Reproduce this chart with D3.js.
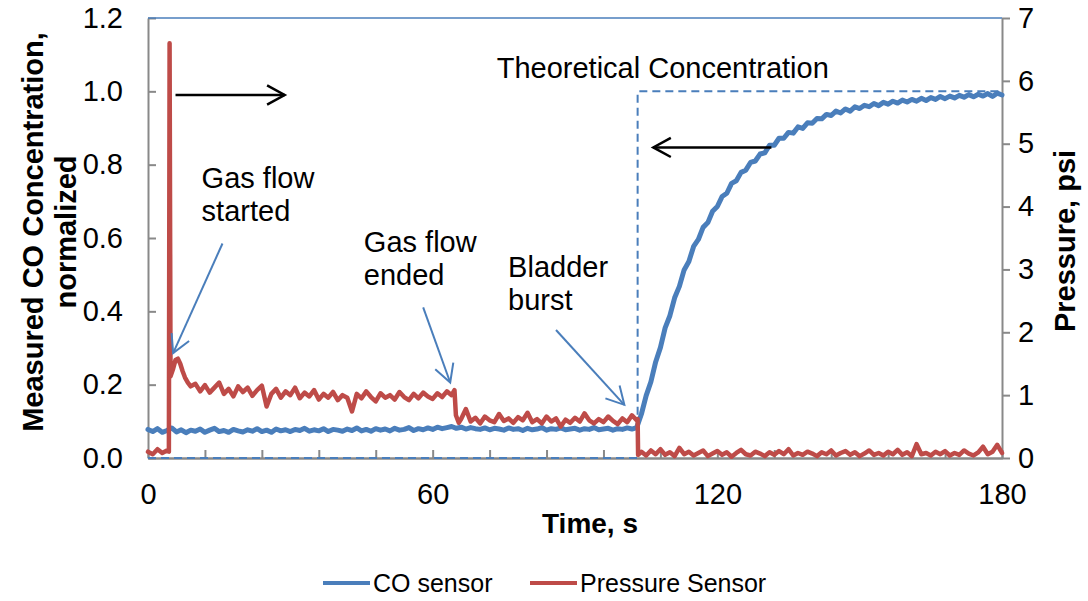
<!DOCTYPE html>
<html>
<head>
<meta charset="utf-8">
<script src="https://cdn.jsdelivr.net/npm/d3@7"></script>
<style>
  body { margin: 0; background: #fff; }
  text { font-family: "Liberation Sans", Arial, sans-serif; }
</style>
</head>
<body>
<script>
// CO sensor, normalized, one sample per second from t = 0 to 180 s
var coValues = [
  0.078,0.072,0.080,0.070,0.075,0.082,0.071,0.077,0.069,0.076,
  0.073,0.079,0.070,0.076,0.081,0.072,0.075,0.070,0.078,0.074,
  0.071,0.077,0.073,0.080,0.072,0.076,0.070,0.079,0.074,0.077,
  0.072,0.078,0.075,0.081,0.073,0.077,0.074,0.080,0.072,0.078,
  0.076,0.073,0.079,0.075,0.082,0.074,0.078,0.073,0.080,0.076,
  0.079,0.074,0.081,0.076,0.078,0.083,0.075,0.080,0.077,0.082,
  0.078,0.084,0.080,0.083,0.086,0.081,0.084,0.079,0.083,0.080,
  0.078,0.082,0.077,0.081,0.079,0.076,0.082,0.078,0.080,0.075,
  0.081,0.077,0.079,0.083,0.076,0.080,0.078,0.082,0.077,0.079,
  0.081,0.076,0.080,0.078,0.083,0.077,0.079,0.081,0.076,0.080,
  0.078,0.082,0.079,0.083,
  0.120,0.170,0.208,0.262,0.301,0.355,
  0.388,0.437,0.468,0.513,0.536,0.577,0.596,0.629,0.642,0.673,
  0.686,0.713,0.722,0.749,0.756,0.779,0.785,0.806,0.810,0.829,
  0.832,0.853,0.853,0.872,0.872,0.888,0.886,0.903,0.899,0.914,
  0.913,0.926,0.925,0.937,0.934,0.946,0.941,0.952,0.946,0.958,
  0.953,0.962,0.958,0.967,0.961,0.970,0.965,0.973,0.968,0.976,
  0.971,0.978,0.973,0.981,0.975,0.983,0.978,0.986,0.980,0.987,
  0.982,0.989,0.984,0.991,0.985,0.992,0.987,0.994,0.986,0.995,
  0.990
];

// pressure sensor [time s, psi]
var pressure = [
  [0,0.10],[1,0.06],[2,0.14],[3,0.08],[4,0.12],[4.4,0.10],[4.55,6.6],[4.75,1.3],
  [5.3,1.42],[5.8,1.56],[6.3,1.58],[6.8,1.5],[7.3,1.38],[7.8,1.28],[8.4,1.2],[9,1.14],
  [10,1.18],[11,1.06],[12,1.16],[13,1.04],[14,1.12],[15,1.20],[16,1.02],[17,1.10],
  [18,0.98],[19,1.14],[20,1.05],[21,1.12],[22,0.99],[23,1.08],[24,1.15],[25,0.82],
  [26,1.02],[27,1.10],[28,0.96],[29,1.06],[30,1.00],[31,1.12],[32,0.95],[33,1.04],
  [34,0.98],[35,1.08],[36,0.93],[37,1.02],[38,0.96],[39,1.05],[40,0.92],[41,1.00],
  [42,0.96],[43,0.74],[44,1.02],[45,0.95],[46,1.06],[47,0.97],[48,0.90],[49,1.03],
  [50,0.96],[51,1.00],[52,0.93],[53,1.05],[54,0.97],[55,0.92],[56,1.02],[57,0.95],
  [58,1.04],[59,0.98],[60,0.94],[61,1.03],[62,0.97],[63,1.06],[64,1.00],[64.6,1.08],
  [64.9,0.68],[65.5,0.56],[66,0.62],[67,0.78],[68,0.58],[69,0.64],[70,0.55],[71,0.66],
  [72,0.60],[73,0.57],[74,0.70],[75,0.59],[76,0.63],[77,0.56],[78,0.65],[79,0.60],
  [80,0.72],[81,0.57],[82,0.62],[83,0.55],[84,0.66],[85,0.58],[86,0.63],[87,0.50],
  [88,0.61],[89,0.56],[90,0.64],[91,0.58],[92,0.71],[93,0.60],[94,0.55],[95,0.62],
  [96,0.57],[97,0.66],[98,0.59],[99,0.54],[100,0.63],[101,0.57],[102,0.68],[103,0.60],
  [103.2,0.62],[103.3,0.05],[104,0.10],[105,0.04],[106,0.12],[107,0.06],[108,0.14],
  [109,0.05],[110,0.09],[111,0.03],[112,0.16],[113,0.06],[114,0.10],[115,0.04],
  [116,0.08],[117,0.12],[118,0.03],[119,0.07],[120,0.11],[121,0.05],[122,0.09],
  [123,0.02],[124,0.08],[125,0.13],[126,0.06],[127,0.04],[128,0.10],[129,0.07],
  [130,0.03],[131,0.09],[132,0.05],[133,0.11],[134,0.06],[135,0.14],[136,0.04],
  [137,0.08],[138,0.05],[139,0.10],[140,0.07],[141,0.03],[142,0.09],[143,0.06],
  [144,0.12],[145,0.04],[146,0.08],[147,0.11],[148,0.05],[149,0.09],[150,0.03],
  [151,0.07],[152,0.12],[153,0.05],[154,0.08],[155,0.04],[156,0.10],[157,0.06],
  [158,0.13],[159,0.05],[160,0.09],[161,0.03],[162,0.22],[163,0.06],[164,0.08],
  [165,0.04],[166,0.10],[167,0.06],[168,0.11],[169,0.04],[170,0.08],[171,0.05],
  [172,0.12],[173,0.07],[174,0.04],[175,0.09],[176,0.18],[177,0.06],[178,0.10],
  [179,0.21],[180,0.08]
];

// theoretical concentration step
var theoryTime = [0, 103.2, 103.2, 180];
var theoryValue = [0, 0, 1, 1];

var leftTicks = [0, 0.2, 0.4, 0.6, 0.8, 1.0, 1.2];
var rightTicks = [0, 1, 2, 3, 4, 5, 6, 7];
var timeTicks = [0, 60, 120, 180];
var timeMinor = [0, 12, 24, 36, 48, 60, 72, 84, 96, 108, 120, 132, 144, 156, 168, 180];

var W = 1088, H = 601;
var plotL = 148, plotR = 1002, plotT = 18, plotB = 458;
var blue = "#4a7ebb", red = "#be4b48", grey = "#898989";

var svg = d3.select("body").append("svg")
  .attr("width", W).attr("height", H);

var x = d3.scaleLinear().domain([0, 180]).range([plotL, plotR]);
var yL = d3.scaleLinear().domain([0, 1.2]).range([plotB, plotT]);
var yR = d3.scaleLinear().domain([0, 7]).range([plotB, plotT]);

// axes
var axL = svg.append("g").attr("transform", "translate(" + plotL + ",0)")
  .call(d3.axisLeft(yL).tickValues(leftTicks).tickFormat(d3.format(".1f")).tickSizeInner(-8).tickSizeOuter(0).tickPadding(25));
var axR = svg.append("g").attr("transform", "translate(" + plotR + ",0)")
  .call(d3.axisRight(yR).tickValues(rightTicks).tickFormat(d3.format("d")).tickSizeInner(8).tickSizeOuter(0).tickPadding(8));
var axB = svg.append("g").attr("transform", "translate(0," + plotB + ")")
  .call(d3.axisBottom(x).tickValues(timeTicks).tickSize(0).tickPadding(25));
svg.append("g").attr("transform", "translate(0," + plotB + ")")
  .call(d3.axisBottom(x).tickValues(timeMinor).tickSizeInner(-8).tickSizeOuter(0).tickFormat(""))
  .selectAll("text").remove();

svg.selectAll(".domain").attr("stroke", grey).attr("stroke-width", 2);
svg.selectAll(".tick line").attr("stroke", grey).attr("stroke-width", 2);
svg.selectAll(".tick text").attr("font-size", 29).attr("fill", "#000")
  .attr("font-family", "Liberation Sans, Arial, sans-serif");
axB.selectAll(".tick text").attr("dy", "0.71em");

// top border
svg.append("line").attr("x1", plotL).attr("x2", plotR).attr("y1", plotT).attr("y2", plotT)
  .attr("stroke", blue).attr("stroke-width", 1.5);

// theoretical concentration (dashed)
svg.append("path")
  .datum(d3.range(theoryTime.length))
  .attr("fill", "none").attr("stroke", blue).attr("stroke-width", 2)
  .attr("stroke-dasharray", "8,5")
  .attr("d", d3.line().x(function(i) { return x(theoryTime[i]); }).y(function(i) { return yL(theoryValue[i]); }));

// CO sensor
svg.append("path")
  .datum(coValues)
  .attr("fill", "none").attr("stroke", blue).attr("stroke-width", 5)
  .attr("stroke-linejoin", "round").attr("stroke-linecap", "round")
  .attr("d", d3.line().x(function(d, i) { return x(i); }).y(function(d) { return yL(d); }));

// pressure sensor
svg.append("path")
  .datum(pressure)
  .attr("fill", "none").attr("stroke", red).attr("stroke-width", 4.5)
  .attr("stroke-linejoin", "round").attr("stroke-linecap", "round")
  .attr("d", d3.line().x(function(d) { return x(d[0]); }).y(function(d) { return yR(d[1]); }));

// arrows
function arrow(t1, v1, t2, v2, color, width) {
  var x1 = x(t1), y1 = yL(v1), x2 = x(t2), y2 = yL(v2);
  var a = Math.atan2(y1 - y2, x1 - x2), len = 20, sp = 0.5;
  var g = svg.append("g").attr("fill", "none").attr("stroke", color).attr("stroke-width", width);
  g.append("line").attr("x1", x1).attr("y1", y1).attr("x2", x2).attr("y2", y2);
  g.append("path").attr("d", "M" + (x2 + len * Math.cos(a + sp)) + "," + (y2 + len * Math.sin(a + sp)) +
    "L" + x2 + "," + y2 + "L" + (x2 + len * Math.cos(a - sp)) + "," + (y2 + len * Math.sin(a - sp)));
}
arrow(5.8, 0.99, 28.8, 0.99, "#000", 2.5);
arrow(131.4, 0.847, 106.5, 0.847, "#000", 2.5);
arrow(15.7, 0.585, 5.3, 0.286, blue, 2);
arrow(58.0, 0.411, 63.7, 0.206, blue, 2);
arrow(86.0, 0.349, 100.4, 0.145, blue, 2);

// annotation text
var notes = [
  { t: 11.3, v: 0.7355, lines: ["Gas flow", "started"] },
  { t: 45.5, v: 0.5627, lines: ["Gas flow", "ended"] },
  { t: 75.9, v: 0.4945, lines: ["Bladder", "burst"] },
  { t: 73.5, v: 1.0355, lines: ["Theoretical Concentration"] }
];
notes.forEach(function(n) {
  var tx = svg.append("text").attr("x", x(n.t)).attr("y", yL(n.v)).attr("font-size", 29);
  n.lines.forEach(function(l, i) {
    tx.append("tspan").attr("x", x(n.t)).attr("dy", i ? 33 : 0).text(l);
  });
});

// axis titles
svg.append("text").attr("x", 590).attr("y", 533)
  .attr("text-anchor", "middle").attr("font-size", 28).attr("font-weight", "bold").text("Time, s");
var lt = svg.append("text").attr("transform", "translate(43,232) rotate(-90)")
  .attr("text-anchor", "middle").attr("font-size", 29).attr("font-weight", "bold");
lt.append("tspan").attr("x", 0).attr("dy", 0).text("Measured CO Concentration,");
lt.append("tspan").attr("x", 0).attr("dy", 33).text("normalized");
svg.append("text").attr("transform", "translate(1075,241) rotate(-90)")
  .attr("text-anchor", "middle").attr("font-size", 29).attr("font-weight", "bold").text("Pressure, psi");

// legend
var legend = [["CO sensor", blue, 323], ["Pressure Sensor", red, 530]];
legend.forEach(function(l) {
  svg.append("line").attr("x1", l[2]).attr("x2", l[2] + 47).attr("y1", 583).attr("y2", 583)
    .attr("stroke", l[1]).attr("stroke-width", 4);
  svg.append("text").attr("x", l[2] + 50).attr("y", 592).attr("font-size", 25).text(l[0]);
});
</script>
</body>
</html>
